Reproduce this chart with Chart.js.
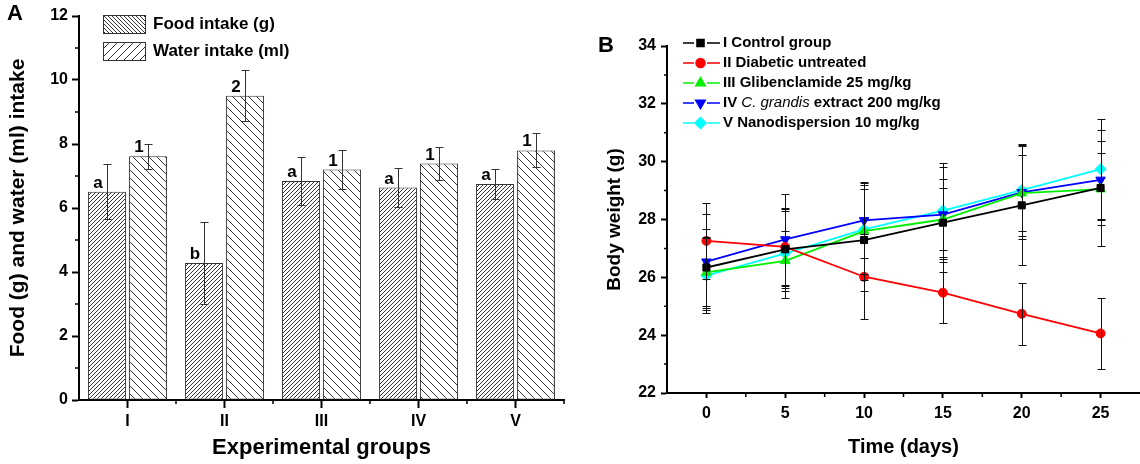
<!DOCTYPE html>
<html>
<head>
<meta charset="utf-8">
<script src="https://cdn.jsdelivr.net/npm/chart.js@4.4.1/dist/chart.umd.min.js"></script>
<style>
  html, body { margin: 0; padding: 0; background: #fff; }
  #wrap { position: relative; width: 1140px; height: 464px; overflow: hidden; }
  .panel { position: absolute; top: 0; width: 570px; height: 464px; }
</style>
</head>
<body>
<div id="wrap">
  <div class="panel" style="left:0"><canvas id="intake" width="570" height="464"></canvas></div>
  <div class="panel" style="left:570px"><canvas id="weight" width="570" height="464"></canvas></div>
</div>
<script>
// panel A data
const groups = ['I', 'II', 'III', 'IV', 'V'];
const foodIntake = [6.51, 4.28, 6.84, 6.64, 6.75];
const foodErr = [0.85, 1.27, 0.75, 0.6, 0.47];
const waterIntake = [7.62, 9.51, 7.2, 7.39, 7.8];
const waterErr = [0.39, 0.8, 0.61, 0.51, 0.53];
const foodLetters = ['a', 'b', 'a', 'a', 'a'];
const waterLetters = ['1', '2', '1', '1', '1'];
const intakeTicks = [0, 2, 4, 6, 8, 10, 12];

// panel B data
const days = [0, 5, 10, 15, 20, 25];
const control = [26.34, 26.97, 27.29, 27.89, 28.49, 29.09];
const controlErr = [1.32, 1.34, 1.75, 1.2, 2.07, 2.0];
const diabetic = [27.26, 27.05, 26.02, 25.47, 24.74, 24.06];
const diabeticErr = [1.31, 1.35, 1.47, 1.05, 1.07, 1.24];
const gliben = [26.17, 26.57, 27.6, 28.0, 28.91, 29.05];
const glibenErr = [1.23, 1.03, 1.7, 1.83, 1.32, 1.25];
const extract = [26.54, 27.31, 27.97, 28.17, 28.94, 29.37];
const extractErr = [1.66, 1.58, 1.3, 1.23, 1.6, 1.35];
const nano = [26.06, 26.83, 27.66, 28.31, 29.02, 29.74];
const nanoErr = [1.31, 1.55, 1.55, 1.66, 1.6, 1.75];
const weightTicks = [22, 24, 26, 28, 30, 32, 34];

Chart.defaults.font.family = 'Arial, "Liberation Sans", sans-serif';
Chart.defaults.color = '#000';

const FONT = 'Arial, "Liberation Sans", sans-serif';

function hatch(ctx, size, slope) {
  const c = document.createElement('canvas');
  c.width = c.height = size;
  const g = c.getContext('2d');
  g.fillStyle = '#fff';
  g.fillRect(0, 0, size, size);
  g.strokeStyle = '#333';
  g.lineWidth = 1;
  g.beginPath();
  for (const o of [-size, 0, size]) {
    if (slope > 0) { g.moveTo(o, size); g.lineTo(o + size, 0); }
    else { g.moveTo(o, 0); g.lineTo(o + size, size); }
  }
  g.stroke();
  return ctx.createPattern(c, 'repeat');
}

function axisStyle(extra) {
  return Object.assign({
    grid: { drawOnChartArea: false, tickLength: 7, tickColor: '#000', tickWidth: 2 },
    border: { color: '#000', width: 2 },
  }, extra);
}

function minorTicks(ctx, pixelsX, pixelsY, area, lenX, lenY) {
  ctx.save();
  ctx.strokeStyle = '#000';
  ctx.lineWidth = 1.5;
  ctx.beginPath();
  pixelsX.forEach(px => { ctx.moveTo(px, area.bottom); ctx.lineTo(px, area.bottom + lenX); });
  pixelsY.forEach(py => { ctx.moveTo(area.left, py); ctx.lineTo(area.left - lenY, py); });
  ctx.stroke();
  ctx.restore();
}

// ---------- panel A ----------
const ctxA = document.getElementById('intake').getContext('2d');

const intakeExtras = {
  id: 'intakeExtras',
  afterDatasetsDraw(chart) {
    const { ctx, scales: { x, y }, chartArea } = chart;
    const vals = [foodIntake, waterIntake];
    const errs = [foodErr, waterErr];
    const letters = [foodLetters, waterLetters];
    ctx.save();
    ctx.strokeStyle = '#333';
    ctx.lineWidth = 1;
    vals.forEach((v, d) => {
      chart.getDatasetMeta(d).data.forEach((bar, i) => {
        const px = Math.round(bar.x) + 0.5;
        const hi = Math.round(y.getPixelForValue(v[i] + errs[d][i])) + 0.5;
        const lo = Math.round(y.getPixelForValue(v[i] - errs[d][i])) + 0.5;
        ctx.beginPath();
        ctx.moveTo(px, hi); ctx.lineTo(px, lo);
        ctx.moveTo(px - 4, hi); ctx.lineTo(px + 4, hi);
        ctx.moveTo(px - 4, lo); ctx.lineTo(px + 4, lo);
        ctx.stroke();
      });
    });
    ctx.fillStyle = '#000';
    ctx.font = 'bold 17px ' + FONT;
    ctx.textAlign = 'center';
    ctx.textBaseline = 'alphabetic';
    letters.forEach((l, d) => {
      chart.getDatasetMeta(d).data.forEach((bar, i) => {
        ctx.fillText(l[i], bar.x - 9, bar.y - 4);
      });
    });
    ctx.restore();

    const mx = [];
    for (let i = 0; i < groups.length - 1; i++) {
      mx.push((x.getPixelForValue(i) + x.getPixelForValue(i + 1)) / 2);
    }
    mx.push(chartArea.right);
    const my = [];
    for (let v = 1; v < 12; v += 2) my.push(y.getPixelForValue(v));
    minorTicks(ctx, mx, my, chartArea, 4, 4);
  },
  afterDraw(chart) {
    const { ctx } = chart;
    ctx.save();
    const boxes = [
      { fill: hatch(ctx, 4, -1), text: chart.data.datasets[0].label, y: 15 },
      { fill: hatch(ctx, 8, 1), text: chart.data.datasets[1].label, y: 42 },
    ];
    ctx.font = 'bold 17px ' + FONT;
    ctx.textBaseline = 'middle';
    ctx.textAlign = 'left';
    boxes.forEach(b => {
      ctx.fillStyle = b.fill;
      ctx.fillRect(103, b.y, 42, 18);
      ctx.strokeStyle = '#333';
      ctx.lineWidth = 1;
      ctx.strokeRect(103.5, b.y + 0.5, 42, 18);
      ctx.fillStyle = '#000';
      ctx.fillText(b.text, 153, b.y + 9);
    });
    ctx.font = 'bold 22px ' + FONT;
    ctx.fillText('A', 7, 14);
    ctx.restore();
  }
};

new Chart(ctxA, {
  type: 'bar',
  data: {
    labels: groups,
    datasets: [
      {
        label: 'Food intake (g)',
        data: foodIntake,
        backgroundColor: hatch(ctxA, 4, 1),
        borderColor: '#333',
        borderWidth: 1,
        borderSkipped: false,
        categoryPercentage: 0.845,
        barPercentage: 0.93,
      },
      {
        label: 'Water intake (ml)',
        data: waterIntake,
        backgroundColor: hatch(ctxA, 8, -1),
        borderColor: '#333',
        borderWidth: 1,
        borderSkipped: false,
        categoryPercentage: 0.845,
        barPercentage: 0.93,
      }
    ]
  },
  options: {
    responsive: false,
    animation: false,
    layout: { autoPadding: false, padding: { left: 0, right: 6, top: 16, bottom: 0 } },
    plugins: { legend: { display: false }, tooltip: { enabled: false } },
    scales: {
      x: axisStyle({
        grid: { offset: false, drawOnChartArea: false, tickLength: 8, tickColor: '#000', tickWidth: 2 },
        ticks: { color: '#000', font: { size: 16, weight: 'bold' }, padding: 4 },
        title: { display: true, text: 'Experimental groups', color: '#000',
                 font: { size: 22, weight: 'bold' }, padding: { top: 0, bottom: 3 } },
        afterFit(s) { s.height = 64; s.paddingLeft = 0; s.paddingRight = 0; }
      }),
      y: axisStyle({
        min: 0,
        max: 12,
        afterBuildTicks(s) { s.ticks = intakeTicks.map(v => ({ value: v })); },
        ticks: { color: '#000', font: { size: 16, weight: 'bold' }, padding: 4 },
        title: { display: true, text: 'Food (g) and water (ml) intake', color: '#000',
                 font: { size: 21, weight: 'bold' }, padding: { top: 6, bottom: 0 } },
        afterFit(s) { s.width = 79; }
      })
    }
  },
  plugins: [intakeExtras]
});

// ---------- panel B ----------
const ctxB = document.getElementById('weight').getContext('2d');

const seriesB = [
  { label: 'I Control group', values: control, err: controlErr, color: '#000000', style: 'rect', radius: 5, rotation: 0 },
  { label: 'II Diabetic untreated', values: diabetic, err: diabeticErr, color: '#ff0000', style: 'circle', radius: 4.5, rotation: 0 },
  { label: 'III Glibenclamide 25 mg/kg', values: gliben, err: glibenErr, color: '#00f000', style: 'triangle', radius: 5.5, rotation: 0 },
  { label: 'IV C. grandis extract 200 mg/kg', values: extract, err: extractErr, color: '#0000ff', style: 'triangle', radius: 5.5, rotation: 180 },
  { label: 'V Nanodispersion 10 mg/kg', values: nano, err: nanoErr, color: '#00ffff', style: 'rectRot', radius: 5.5, rotation: 0 },
];

const weightExtras = {
  id: 'weightExtras',
  afterDatasetsDraw(chart) {
    const { ctx, scales: { x, y }, chartArea } = chart;
    ctx.save();
    ctx.strokeStyle = '#111';
    ctx.lineWidth = 1;
    seriesB.forEach(s => {
      days.forEach((d, i) => {
        const px = Math.round(x.getPixelForValue(d)) + 0.5;
        const hi = Math.round(y.getPixelForValue(s.values[i] + s.err[i])) + 0.5;
        const lo = Math.round(y.getPixelForValue(s.values[i] - s.err[i])) + 0.5;
        ctx.beginPath();
        ctx.moveTo(px, hi); ctx.lineTo(px, lo);
        ctx.moveTo(px - 4, hi); ctx.lineTo(px + 4, hi);
        ctx.moveTo(px - 4, lo); ctx.lineTo(px + 4, lo);
        ctx.stroke();
      });
    });
    ctx.restore();

    const mx = [];
    for (let v = 2.5; v < 27.5; v += 5) mx.push(x.getPixelForValue(v));
    const my = [];
    for (let v = 23; v < 34; v += 2) my.push(y.getPixelForValue(v));
    minorTicks(ctx, mx, my, chartArea, 4, 3);
  },
  afterDraw(chart) {
    const { ctx } = chart;
    ctx.save();
    const bold = 'bold 15px ' + FONT;
    ctx.textBaseline = 'middle';
    ctx.textAlign = 'left';
    seriesB.forEach((s, i) => {
      const ry = 43 + i * 20;
      ctx.strokeStyle = s.color;
      ctx.lineWidth = 1.5;
      ctx.beginPath();
      ctx.moveTo(113, ry); ctx.lineTo(124, ry);
      ctx.moveTo(137, ry); ctx.lineTo(150, ry);
      ctx.stroke();
      ctx.fillStyle = s.color;
      ctx.strokeStyle = s.color;
      Chart.helpers.drawPoint(ctx, { pointStyle: s.style, radius: s.radius, rotation: s.rotation, borderWidth: 1 }, 130.5, ry);
      ctx.fillStyle = '#000';
      let tx = 153;
      const parts = s.label.split(/(C\. grandis)/);
      parts.forEach(p => {
        if (!p) return;
        ctx.font = p === 'C. grandis' ? 'italic 15px ' + FONT : bold;
        ctx.fillText(p, tx, ry);
        tx += ctx.measureText(p).width;
      });
    });
    ctx.font = 'bold 22px ' + FONT;
    ctx.fillText('B', 28, 46);
    ctx.restore();
  }
};

new Chart(ctxB, {
  type: 'line',
  data: {
    datasets: seriesB.map(s => ({
      label: s.label,
      data: days.map((d, i) => ({ x: d, y: s.values[i] })),
      borderColor: s.color,
      backgroundColor: s.color,
      borderWidth: 1.8,
      pointStyle: s.style,
      pointRadius: s.radius,
      pointRotation: s.rotation,
      pointBorderWidth: 1,
      tension: 0,
    }))
  },
  options: {
    responsive: false,
    animation: false,
    layout: { autoPadding: false, padding: { left: 0, right: 0, top: 46, bottom: 0 } },
    plugins: { legend: { display: false }, tooltip: { enabled: false } },
    scales: {
      x: axisStyle({
        type: 'linear',
        min: -2.5,
        max: 27.5,
        afterBuildTicks(s) { s.ticks = days.map(v => ({ value: v })); },
        grid: { drawOnChartArea: false, tickLength: 5, tickColor: '#000', tickWidth: 2 },
        ticks: { color: '#000', font: { size: 16, weight: 'bold' }, padding: 6 },
        title: { display: true, text: 'Time (days)', color: '#000',
                 font: { size: 20, weight: 'bold' }, padding: { top: 0, bottom: 5 } },
        afterFit(s) { s.height = 71; s.paddingLeft = 0; s.paddingRight = 0; }
      }),
      y: axisStyle({
        min: 22,
        max: 34,
        afterBuildTicks(s) { s.ticks = weightTicks.map(v => ({ value: v })); },
        grid: { drawOnChartArea: false, tickLength: 6, tickColor: '#000', tickWidth: 2 },
        ticks: { color: '#000', font: { size: 16, weight: 'bold' }, padding: 5 },
        title: { display: true, text: 'Body weight (g)', color: '#000',
                 font: { size: 19, weight: 'bold' }, padding: { top: 33, bottom: 0 } },
        afterFit(s) { s.width = 97; }
      })
    }
  },
  plugins: [weightExtras]
});
</script>
</body>
</html>
